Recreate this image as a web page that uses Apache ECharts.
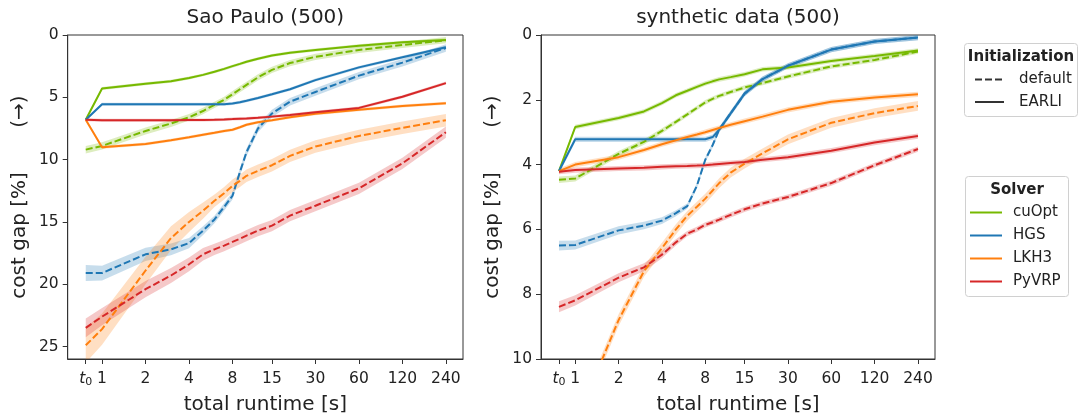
<!DOCTYPE html>
<html>
<head>
<meta charset="utf-8">
<script src="https://cdn.jsdelivr.net/npm/echarts@6/dist/echarts.min.js"></script>
<style>
  html, body { margin: 0; padding: 0; background: #fff; }
  #chart { width: 1087px; height: 420px; }
</style>
</head>
<body>
<div id="chart"></div>
<script>
// Sample times (seconds); 't0' is the initial solution time.
const TIMES = ['t0', 1, 2, 3, 4, 5, 6, 7, 8, 9, 10, 12, 15, 20, 30, 60, 120, 240];
const TICK_TIMES = ['t0', 1, 2, 4, 8, 15, 30, 60, 120, 240];
const SOLVERS = ['cuOpt', 'HGS', 'LKH3', 'PyVRP'];
const INITS = ['default', 'EARLI'];
const PANEL_TITLES = ['Sao Paulo (500)', 'synthetic data (500)'];
const Y_TICKS_SP = [0, 5, 10, 15, 20, 25];
const Y_TICKS_SYN = [0, 2, 4, 6, 8, 10];

// Sao Paulo (500): cost gap [%]
const SP_CUOPT_EARLI   = [6.8, 4.3, 3.92, 3.72, 3.45, 3.2, 2.95, 2.72, 2.5, 2.32, 2.15, 1.9, 1.65, 1.42, 1.2, 0.86, 0.58, 0.4];
const SP_CUOPT_DEFAULT = [9.2, 8.9, 7.7, 7.1, 6.6, 6.1, 5.6, 5.2, 4.75, 4.35, 4.0, 3.4, 2.8, 2.25, 1.75, 1.2, 0.8, 0.42];
const SP_HGS_EARLI     = [6.8, 5.56, 5.56, 5.56, 5.56, 5.56, 5.56, 5.55, 5.5, 5.4, 5.28, 5.05, 4.75, 4.35, 3.62, 2.6, 1.78, 0.99];
const SP_HGS_DEFAULT   = [19.1, 19.1, 17.6, 17.2, 16.7, 15.7, 14.8, 13.8, 12.9, 11.0, 9.4, 7.5, 6.3, 5.35, 4.57, 3.26, 2.22, 1.04];
const SP_LKH3_EARLI    = [6.8, 9.0, 8.75, 8.45, 8.2, 8.0, 7.85, 7.7, 7.6, 7.4, 7.2, 7.0, 6.84, 6.6, 6.32, 6.0, 5.69, 5.48];
const SP_LKH3_DEFAULT  = [24.9, 23.6, 18.9, 16.3, 15.0, 14.1, 13.3, 12.7, 12.1, 11.7, 11.3, 10.9, 10.45, 9.7, 8.95, 8.1, 7.45, 6.84];
const SP_PYVRP_EARLI   = [6.8, 6.85, 6.85, 6.85, 6.83, 6.82, 6.8, 6.78, 6.75, 6.72, 6.7, 6.65, 6.55, 6.42, 6.2, 5.85, 4.96, 3.86];
const SP_PYVRP_DEFAULT = [23.5, 22.6, 20.4, 19.3, 18.4, 17.6, 17.2, 16.9, 16.6, 16.35, 16.1, 15.7, 15.3, 14.5, 13.7, 12.3, 10.3, 7.8];

// synthetic data (500): cost gap [%]
const SYN_CUOPT_EARLI   = [4.2, 2.84, 2.56, 2.36, 2.1, 1.86, 1.72, 1.6, 1.5, 1.43, 1.37, 1.3, 1.21, 1.06, 1.0, 0.8, 0.65, 0.48];
const SYN_CUOPT_DEFAULT = [4.47, 4.43, 3.67, 3.3, 2.96, 2.68, 2.45, 2.25, 2.08, 1.97, 1.88, 1.76, 1.62, 1.48, 1.28, 0.97, 0.77, 0.51];
const SYN_HGS_EARLI     = [4.2, 3.22, 3.22, 3.22, 3.22, 3.22, 3.22, 3.22, 3.22, 3.15, 2.92, 2.42, 1.81, 1.36, 0.95, 0.45, 0.2, 0.08];
const SYN_HGS_DEFAULT   = [6.5, 6.48, 6.03, 5.88, 5.73, 5.5, 5.28, 4.65, 3.85, 3.4, 2.92, 2.42, 1.81, 1.36, 0.95, 0.45, 0.2, 0.08];
const SYN_LKH3_EARLI    = [4.2, 4.0, 3.77, 3.55, 3.37, 3.25, 3.15, 3.07, 3.0, 2.93, 2.87, 2.77, 2.66, 2.52, 2.31, 2.06, 1.93, 1.83];
const SYN_LKH3_DEFAULT  = [13.5, 12.0, 8.8, 7.29, 6.58, 6.0, 5.58, 5.3, 5.05, 4.8, 4.57, 4.25, 3.97, 3.65, 3.22, 2.71, 2.41, 2.19];
const SYN_PYVRP_EARLI   = [4.22, 4.17, 4.12, 4.1, 4.07, 4.05, 4.04, 4.03, 4.02, 4.0, 3.98, 3.95, 3.92, 3.85, 3.77, 3.57, 3.32, 3.12];
const SYN_PYVRP_DEFAULT = [8.39, 8.19, 7.49, 7.17, 6.78, 6.4, 6.13, 6.0, 5.86, 5.78, 5.7, 5.55, 5.38, 5.2, 5.0, 4.57, 4.02, 3.52];

// Half-width of the spread band around each curve (cuOpt, HGS, LKH3, PyVRP), at the start and later on.
const SP_BAND_DEFAULT_START  = [0.3, 0.65, 1.4, 0.75];
const SP_BAND_DEFAULT_END    = [0.25, 0.3, 0.5, 0.45];
const SP_BAND_EARLI          = [0.12, 0.12, 0.12, 0.12];
const SYN_BAND_DEFAULT_START = [0.1, 0.15, 0.2, 0.17];
const SYN_BAND_DEFAULT_END   = [0.07, 0.08, 0.15, 0.08];
const SYN_BAND_EARLI         = [0.07, 0.08, 0.08, 0.08];

const COLORS = ['#76b900', '#1f77b4', '#ff7f0e', '#d62728'];
const FONT = 'DejaVu Sans';
const T0_POS = -0.375;            // where t0 sits on the log2 time axis
const X_MIN = -0.79, X_MAX = 8.3;

const pos = t => (t === 't0' ? T0_POS : Math.log2(t));
const XPOS = TIMES.map(pos);
const TICK_POS = TICK_TIMES.map(pos);

const PANELS = [
  {
    max: 26, yTicks: Y_TICKS_SP,
    series: {
      default: [SP_CUOPT_DEFAULT, SP_HGS_DEFAULT, SP_LKH3_DEFAULT, SP_PYVRP_DEFAULT],
      EARLI: [SP_CUOPT_EARLI, SP_HGS_EARLI, SP_LKH3_EARLI, SP_PYVRP_EARLI]
    },
    band: {
      default: [SP_BAND_DEFAULT_START, SP_BAND_DEFAULT_END],
      EARLI: [SP_BAND_EARLI, SP_BAND_EARLI]
    },
    grid: { left: 67.7, top: 35, width: 395.3, height: 331.7 }
  },
  {
    max: 10, yTicks: Y_TICKS_SYN,
    series: {
      default: [SYN_CUOPT_DEFAULT, SYN_HGS_DEFAULT, SYN_LKH3_DEFAULT, SYN_PYVRP_DEFAULT],
      EARLI: [SYN_CUOPT_EARLI, SYN_HGS_EARLI, SYN_LKH3_EARLI, SYN_PYVRP_EARLI]
    },
    band: {
      default: [SYN_BAND_DEFAULT_START, SYN_BAND_DEFAULT_END],
      EARLI: [SYN_BAND_EARLI, SYN_BAND_EARLI]
    },
    grid: { left: 541, top: 35, width: 394, height: 331.7 }
  }
];

function tickLabel(value) {
  let idx = -1;
  TICK_POS.forEach((p, i) => { if (Math.abs(p - value) < 1e-6) idx = i; });
  if (idx < 0) return '';
  const t = TICK_TIMES[idx];
  return t === 't0' ? '{it|t}{sub|0}' : String(t);
}

function bandSeries(pi, vals, start, end, color) {
  return {
    type: 'custom', xAxisIndex: pi, yAxisIndex: pi, data: [0], silent: true, z: 1, clip: true,
    renderItem(params, api) {
      const top = [], bottom = [];
      vals.forEach((v, i) => {
        const k = Math.max(0, 1 - i / 6);
        const w = end + (start - end) * k;
        top.push(api.coord([XPOS[i], v - w]));
        bottom.push(api.coord([XPOS[i], v + w]));
      });
      const cs = params.coordSys;
      return {
        type: 'polygon',
        shape: { points: top.concat(bottom.reverse()) },
        style: { fill: color, opacity: 0.25 },
        clipPath: { type: 'rect', shape: { x: cs.x, y: cs.y, width: cs.width, height: cs.height } }
      };
    }
  };
}

const grids = [], xAxes = [], yAxes = [], series = [], graphics = [];

PANELS.forEach((p, pi) => {
  grids.push(Object.assign({ show: true, borderColor: '#333', borderWidth: 1, backgroundColor: 'transparent' }, p.grid));
  xAxes.push({
    type: 'value', gridIndex: pi, min: X_MIN, max: X_MAX,
    splitLine: { show: false },
    axisLine: { show: true, onZero: false, lineStyle: { color: '#333', width: 1 } },
    axisTick: { show: true, length: 5, customValues: TICK_POS, lineStyle: { color: '#333', width: 1 } },
    axisLabel: {
      customValues: TICK_POS, formatter: tickLabel, color: '#222', fontFamily: FONT, fontSize: 15.5,
      lineHeight: 18, margin: 11,
      rich: {
        it: { fontStyle: 'italic', fontFamily: FONT, fontSize: 15.5, lineHeight: 18, color: '#222' },
        sub: { fontFamily: FONT, fontSize: 11, lineHeight: 11, verticalAlign: 'bottom', color: '#222' }
      }
    },
    name: 'total runtime [s]', nameLocation: 'middle', nameGap: 36,
    nameTextStyle: { fontFamily: FONT, fontSize: 20, color: '#222' }
  });
  yAxes.push({
    type: 'value', gridIndex: pi, min: 0, max: p.max, inverse: true,
    splitLine: { show: false },
    axisLine: { show: true, onZero: false, lineStyle: { color: '#333', width: 1 } },
    axisTick: { show: true, length: 5, customValues: p.yTicks, lineStyle: { color: '#333', width: 1 } },
    axisLabel: { customValues: p.yTicks, color: '#222', fontFamily: FONT, fontSize: 15.5, margin: 9 },
    name: 'cost gap [%]       (→)', nameLocation: 'middle', nameRotate: 90, nameGap: 38,
    nameTextStyle: { fontFamily: FONT, fontSize: 20, color: '#222' }
  });

  INITS.forEach(init => {
    SOLVERS.forEach((s, si) => {
      const vals = p.series[init][si];
      const [bs, be] = p.band[init];
      series.push(bandSeries(pi, vals, bs[si], be[si], COLORS[si]));
      series.push({
        name: s + ' ' + init, type: 'line', xAxisIndex: pi, yAxisIndex: pi,
        data: vals.map((v, i) => [XPOS[i], v]),
        showSymbol: false, symbol: 'none', silent: true, clip: true, z: 3,
        lineStyle: { color: COLORS[si], width: 2, type: init === 'default' ? [7, 3] : 'solid' }
      });
    });
  });

  graphics.push({
    type: 'text', x: p.grid.left + p.grid.width / 2, y: 18, silent: true,
    style: { text: PANEL_TITLES[pi], fill: '#222', font: '20px "DejaVu Sans"', textAlign: 'center', textVerticalAlign: 'middle' }
  });
});

// Legend: line style per initialization
graphics.push({ type: 'rect', shape: { x: 964.5, y: 43.5, width: 113, height: 73, r: 3 }, style: { fill: '#fff', stroke: '#d0d0d0', lineWidth: 1 } });
graphics.push({ type: 'text', x: 1021, y: 57, style: { text: 'Initialization', fill: '#222', font: 'bold 15px "DejaVu Sans"', textAlign: 'center', textVerticalAlign: 'middle' } });
INITS.forEach((init, i) => {
  const y = 79.5 + i * 22.5;
  graphics.push({ type: 'line', shape: { x1: 975, y1: y, x2: 1004, y2: y }, style: { stroke: '#333', lineWidth: 2, lineDash: init === 'default' ? [7, 3] : null } });
  graphics.push({ type: 'text', x: 1019, y: y, style: { text: init, fill: '#222', font: '15px "DejaVu Sans"', textAlign: 'left', textVerticalAlign: 'middle' } });
});

// Legend: colour per solver
graphics.push({ type: 'rect', shape: { x: 965.5, y: 176.5, width: 103, height: 120, r: 3 }, style: { fill: '#fff', stroke: '#d0d0d0', lineWidth: 1 } });
graphics.push({ type: 'text', x: 1017, y: 190, style: { text: 'Solver', fill: '#222', font: 'bold 15px "DejaVu Sans"', textAlign: 'center', textVerticalAlign: 'middle' } });
SOLVERS.forEach((s, i) => {
  const y = 212.5 + i * 23;
  graphics.push({ type: 'line', shape: { x1: 970, y1: y, x2: 1002, y2: y }, style: { stroke: COLORS[i], lineWidth: 2 } });
  graphics.push({ type: 'text', x: 1013, y: y, style: { text: s, fill: '#222', font: '15px "DejaVu Sans"', textAlign: 'left', textVerticalAlign: 'middle' } });
});

const chart = echarts.init(document.getElementById('chart'), null, { renderer: 'canvas' });
chart.setOption({
  animation: false,
  backgroundColor: '#fff',
  textStyle: { fontFamily: FONT },
  grid: grids,
  xAxis: xAxes,
  yAxis: yAxes,
  series: series,
  graphic: graphics
});
</script>
</body>
</html>
